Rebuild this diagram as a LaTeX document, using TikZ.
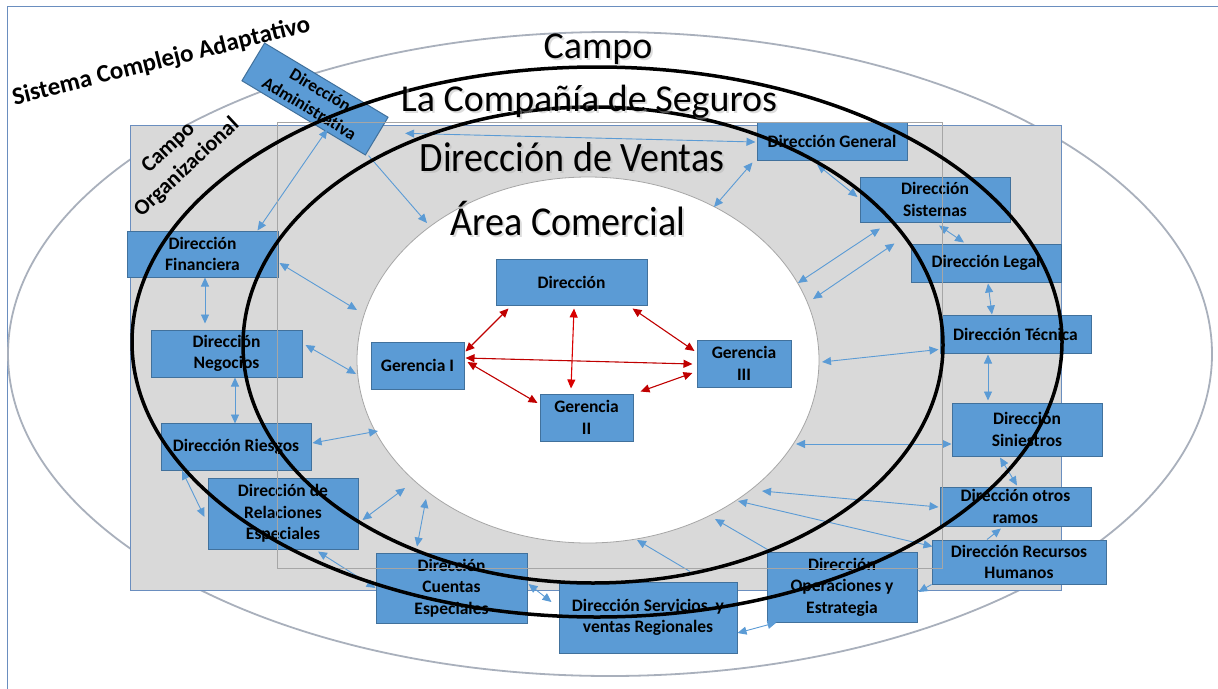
\documentclass[tikz,border=0pt]{standalone}
\usepackage{fontspec}
\setmainfont{Carlito}
\usetikzlibrary{arrows.meta,calc}
\definecolor{boxblue}{HTML}{5B9BD5}
\definecolor{boxedge}{HTML}{41719C}
\definecolor{arrblue}{HTML}{5B9BD5}
\definecolor{darkred}{HTML}{C00000}
\definecolor{rectgray}{HTML}{D9D9D9}
\definecolor{rectedge}{HTML}{6A8EBF}
\definecolor{ellgray}{HTML}{A9B0BC}
\definecolor{thingray}{HTML}{A6A6A6}
\begin{document}
\begin{tikzpicture}[x=1pt,y=-1pt,
  dbox/.style={draw=boxedge,fill=boxblue,line width=1pt,inner sep=0pt,align=center,
    font=\bfseries\fontsize{17.5}{21.5}\selectfont,text=black},
  barrow/.style={draw=arrblue,line width=0.9pt,{Triangle[length=9pt,width=8pt]}-{Triangle[length=9pt,width=8pt]}},
  bsingle/.style={draw=arrblue,line width=0.9pt,-{Triangle[length=9pt,width=8pt]}},
  rarrow/.style={draw=darkred,line width=1.1pt,{Triangle[length=9pt,width=8pt]}-{Triangle[length=9pt,width=8pt]}},
  bigtext/.style={font=\fontsize{38}{40}\selectfont,anchor=base,inner sep=0pt},
  bigshadow/.style={bigtext,text=black!30,opacity=0.45},
  ringline/.style={draw=black,line width=3.5pt},
]
\useasboundingbox (0,0) rectangle (1218,688);
\fill[white] (0,0) rectangle (1218,688);
% outer frame
\draw[rectedge,line width=1pt] (7,6) rectangle (1240,700);
% outer ellipse (Campo)
\draw[draw=boxblue!12,line width=6pt] (610,354) ellipse [x radius=598, y radius=318];
\draw[draw=ellgray,line width=1.8pt,fill=white] (610,354) ellipse [x radius=602, y radius=322];
% Campo organizacional rectangle
\draw[draw=rectedge,fill=rectgray,line width=1pt] (130,125) rectangle (1061,590);
% inner white ellipse (Area comercial)
\draw[draw=thingray,fill=white,line width=0.8pt] (588,360) ellipse [x radius=231, y radius=183];

% boxes
\node[dbox,rotate=-31,minimum width=144pt,minimum height=44pt] (admin) at (315,99) {Dirección\\Administrativa};
\node[dbox,minimum width=150pt,minimum height=38pt] (gen) at (832,141) {Dirección General};
\node[dbox,minimum width=150pt,minimum height=45pt] (sis) at (935,199.5) {Dirección\\Sistemas};
\node[dbox,minimum width=150pt,minimum height=38pt] (legal) at (986,263) {Dirección Legal};
\node[dbox,minimum width=151pt,minimum height=38pt] (tec) at (1015.5,334) {Dirección Técnica};
\node[dbox,minimum width=150pt,minimum height=53pt] (sin) at (1027,429.5) {Dirección\\Siniestros};
\node[dbox,minimum width=151pt,minimum height=39pt] (otros) at (1015.5,506.5) {Dirección otros\\ramos};
\node[dbox,minimum width=174pt,minimum height=44pt] (rrhh) at (1019,562) {Dirección Recursos\\Humanos};
\node[dbox,minimum width=150pt,minimum height=70pt] (ops) at (842,587) {Dirección\\Operaciones y\\Estrategia};
\node[dbox,minimum width=178pt,minimum height=71pt] (serv) at (648,617.5) {Dirección Servicios~ y\\ventas Regionales};
\node[dbox,minimum width=151pt,minimum height=70pt] (cuentas) at (451.5,588) {Dirección\\Cuentas\\Especiales};
\node[dbox,minimum width=150pt,minimum height=71pt] (rel) at (283,513.5) {Dirección de\\Relaciones\\Especiales};
\node[dbox,minimum width=150pt,minimum height=47pt] (riesgos) at (236,446.5) {Dirección Riesgos};
\node[dbox,minimum width=151pt,minimum height=47pt] (neg) at (226.5,353.5) {Dirección\\Negocios};
\node[dbox,minimum width=151pt,minimum height=46pt] (fin) at (202.5,254) {Dirección\\Financiera};
\node[dbox,minimum width=151pt,minimum height=46pt] (dir) at (571.5,282) {Dirección};
\node[dbox,minimum width=93pt,minimum height=47pt] (g1) at (417.5,365.5) {Gerencia I};
\node[dbox,minimum width=93pt,minimum height=47pt] (g2) at (586.5,417.5) {Gerencia\\II};
\node[dbox,minimum width=94pt,minimum height=47pt] (g3) at (744,363.5) {Gerencia\\III};

% free ends on the inner ellipse
\coordinate (in1) at (427,223);
\coordinate (in2) at (714,207);
\coordinate (in3) at (798,283);
\coordinate (in4) at (813,299);
\coordinate (in5) at (822,362);
\coordinate (in6) at (796,444);
\coordinate (in7) at (762,491);
\coordinate (in8) at (738,501);
\coordinate (in9) at (715,519);
\coordinate (in10) at (637,540);
\coordinate (in11) at (426,499);
\coordinate (in12) at (405,488);
\coordinate (in13) at (378,431);
\coordinate (in14) at (356,374);
\coordinate (in15) at (357,310);

% blue connectors
\draw[barrow] ([shift={(24,11)}]admin.south) -- ([shift={(55,0)}]fin.north);
\draw[bsingle] ([shift={(3,0)}]admin.south east) -- (in1);
\draw[barrow] ([shift={(28,-3)}]admin.east) -- ([shift={(-1,1)}]gen.west);
\draw[barrow] ([shift={(-4,2)}]gen.south west) -- (in2);
\draw[barrow] ([shift={(-15,4)}]gen.south) -- ([shift={(-2,-2.5)}]sis.west);
\draw[barrow] ([shift={(4,3)}]sis.south) -- ([shift={(-22,-1)}]legal.north);
\draw[barrow] ([shift={(-55,6)}]sis.south) -- (in3);
\draw[barrow] ([shift={(-16,0)}]legal.north west) -- (in4);
\draw[barrow] ([shift={(2,1)}]legal.south) -- ([shift={(-23.5,0)}]tec.north);
\draw[barrow] ([shift={(-1,-4)}]tec.south west) -- (in5);
\draw[barrow] ([shift={(-27.5,1)}]tec.south) -- ([shift={(-39,-2)}]sin.north);
\draw[barrow] ([shift={(0,14.5)}]sin.west) -- (in6);
\draw[barrow] ([shift={(-27,1)}]sin.south) -- ([shift={(1.5,-1)}]otros.north);
\draw[barrow] ([shift={(-1,0.5)}]otros.west) -- (in7);
\draw[barrow] ([shift={(1,7)}]rrhh.north west) -- (in8);
\draw[bsingle] ([shift={(-32,0)}]rrhh.north) -- ([shift={(-14.5,2)}]otros.south);
\draw[bsingle] (rrhh.south west) -- ([shift={(1,5)}]ops.east);
\draw[bsingle] ([shift={(1,-2)}]ops.north west) -- (in9);
\draw[bsingle] ([shift={(42,-10)}]serv.north) -- (in10);
\draw[barrow] ([shift={(0,15.5)}]serv.east) -- ([shift={(10,0)}]ops.south west);
\draw[barrow] ([shift={(1,-4)}]cuentas.east) -- ([shift={(-7,-15.5)}]serv.west);
\draw[barrow] (cuentas.west) -- ([shift={(35,2)}]rel.south);
\draw[barrow] ([shift={(-34.5,-6)}]cuentas.north) -- (in11);
\draw[barrow] ([shift={(4,6.5)}]rel.east) -- (in12);
\draw[barrow] ([shift={(-54,0)}]riesgos.south) -- ([shift={(-3,3.5)}]rel.west);
\draw[barrow] ([shift={(1,-3.5)}]riesgos.east) -- (in13);
\draw[barrow] ([shift={(8.5,0)}]neg.south) -- ([shift={(-1,1)}]riesgos.north);
\draw[barrow] ([shift={(3,-8.5)}]neg.east) -- (in14);
\draw[barrow] ([shift={(2.5,0)}]fin.south) -- ([shift={(-21.5,-6)}]neg.north);
\draw[barrow] ([shift={(1,9)}]fin.east) -- (in15);

% red connectors
\draw[rarrow] ([shift={(13,3)}]dir.south west) -- ([shift={(1,10)}]g1.north east);
\draw[rarrow,draw=red!85!black] ([shift={(2.5,3)}]dir.south) -- ([shift={(-15.5,-5)}]g2.north);
\draw[rarrow] ([shift={(-15,3)}]dir.south east) -- ([shift={(-2,-12.5)}]g3.west);
\draw[rarrow] ([shift={(1,-7.5)}]g1.east) -- ([shift={(-4,0.5)}]g3.west);
\draw[rarrow] ([shift={(3,-3.5)}]g1.east) -- ([shift={(-2,-14.5)}]g2.west);
\draw[rarrow] ([shift={(7,-2)}]g2.north east) -- ([shift={(-4,9.5)}]g3.west);

% thin inner rectangle
\draw[draw=thingray,line width=0.9pt] (277,122) rectangle (942,568);

% black rings
\draw[ringline] (597,342) ellipse [x radius=465, y radius=275];
\draw[ringline] (593,345) ellipse [x radius=350, y radius=238];

% labels
\node[font=\bfseries\fontsize{25}{28}\selectfont,rotate=14,anchor=base,inner sep=0pt] (sca) at (163,68) {Sistema Complejo Adaptativo};
\node[font=\bfseries\fontsize{22}{27}\selectfont,rotate=43,align=center,inner sep=0pt] (corg) at (178,158) {Campo\\Organizacional};

\node[bigshadow] at (600,60) {Campo};
\node[bigtext] (tcampo) at (598,58) {Campo};
\node[bigshadow] at (591,113) {La Compañía de Seguros};
\node[bigtext] (tcia) at (589,111) {La Compañía de Seguros};
\node[bigshadow,yscale=1.1] at (574,173) {Dirección de Ventas};
\node[bigtext,yscale=1.1] (tventas) at (572,171) {Dirección de Ventas};
\node[bigshadow,yscale=1.08] at (570,237) {Área Comercial};
\node[bigtext,yscale=1.08] (tarea) at (568,235) {Área Comercial};
\end{tikzpicture}
\end{document}
